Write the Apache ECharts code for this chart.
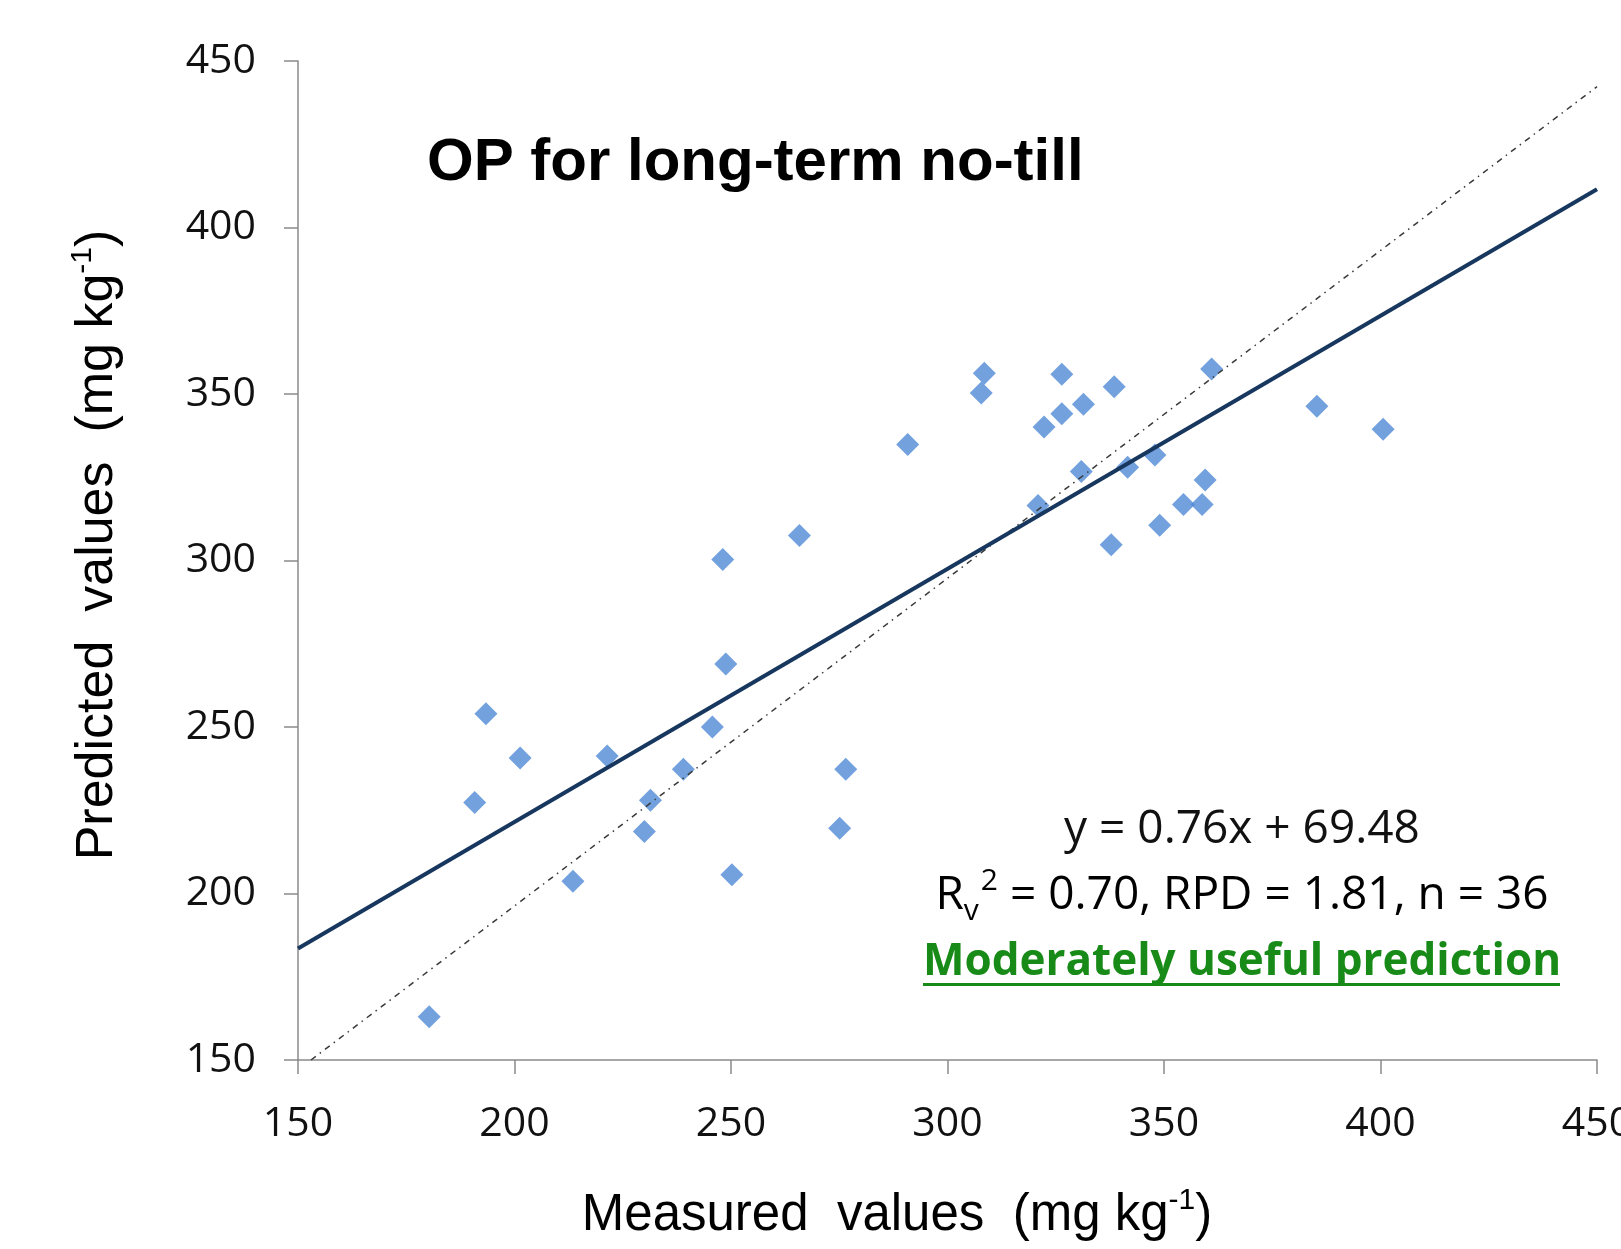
<!DOCTYPE html>
<html>
<head>
<meta charset="utf-8">
<script src="https://cdn.jsdelivr.net/npm/echarts@6/dist/echarts.min.js"></script>
<style>
html,body{margin:0;padding:0;background:#fff;overflow:hidden;}
#chart{width:1621px;height:1249px;}
</style>
</head>
<body>
<div id="chart"></div>
<script>
// ---- data ----
const measured = [180.3, 190.8, 193.4, 201.3, 213.5, 221.4, 230.0, 231.4, 239.0, 245.7,
  248.1, 248.8, 250.2, 265.8, 275.1, 276.5, 290.8, 307.8, 308.5, 320.9,
  322.3, 326.4, 326.4, 330.9, 331.4, 337.8, 338.5, 341.6, 347.9, 349.0,
  354.5, 358.8, 359.5, 361.0, 385.3, 400.6];
const predicted = [163.0, 227.3, 254.0, 240.7, 203.7, 241.3, 218.6, 228.0, 237.3, 250.0,
  300.3, 268.9, 205.6, 307.5, 219.6, 237.3, 334.8, 350.3, 356.2, 316.5,
  340.1, 344.1, 355.9, 326.7, 346.9, 304.7, 352.2, 328.0, 331.7, 310.6,
  316.8, 316.8, 324.2, 357.5, 346.3, 339.4];
const trendLine = [[150, 183.5], [450, 411.5]];      // y = 0.76x + 69.48
const referenceLine = [[153, 150], [450, 442.3]];    // dash-dot guide line
const axisTicks = [150, 200, 250, 300, 350, 400, 450];

const titleText = 'OP for long-term no-till';
const equationText = 'y = 0.76x + 69.48';
const statsText = ['R', 'v', '2', ' = 0.70, RPD = 1.81, n = 36'];
const verdictText = 'Moderately useful prediction';

const points = measured.map((x, i) => [x, predicted[i]]);

const axisColor = '#8a8a8a';
const chart = echarts.init(document.getElementById('chart'), null, {renderer: 'canvas', width: 1621, height: 1249});

const axisCommon = {
  type: 'value',
  min: axisTicks[0],
  max: axisTicks[axisTicks.length - 1],
  interval: axisTicks[1] - axisTicks[0],
  axisLine: {show: true, lineStyle: {color: axisColor, width: 1.5}},
  axisTick: {show: true, inside: false, length: 14, lineStyle: {color: axisColor, width: 1.5}},
  splitLine: {show: false},
  axisLabel: {color: '#111', fontFamily: 'Open Sans', fontSize: 41, hideOverlap: false}
};

chart.setOption({
  animation: false,
  backgroundColor: '#ffffff',
  grid: {left: 298, right: 24, top: 61, bottom: 189, containLabel: false, outerBoundsMode: 'none'},
  xAxis: Object.assign({}, axisCommon, {axisLabel: Object.assign({}, axisCommon.axisLabel, {margin: 44})}),
  yAxis: Object.assign({}, axisCommon, {axisLabel: Object.assign({}, axisCommon.axisLabel, {margin: 42})}),
  series: [
    {
      type: 'scatter',
      data: points,
      symbol: 'diamond',
      symbolSize: 23,
      itemStyle: {color: '#4F89D6'},
      z: 2
    },
    {
      type: 'line',
      data: referenceLine,
      showSymbol: false,
      symbol: 'none',
      lineStyle: {color: '#3a3a3a', width: 1.5, type: [6, 5, 1.5, 5]},
      z: 3
    },
    {
      type: 'line',
      data: trendLine,
      showSymbol: false,
      symbol: 'none',
      lineStyle: {color: '#17375E', width: 4},
      z: 4
    }
  ],
  graphic: [
    {
      type: 'text', left: 427, top: 133, z: 10,
      style: {text: titleText, fill: '#000', font: 'bold 60px "Liberation Sans", Arial, sans-serif'}
    },
    {
      type: 'text', x: 1242, y: 830, z: 10,
      style: {text: equationText, fill: '#111', font: '46px "Open Sans", sans-serif',
        align: 'center', verticalAlign: 'middle'}
    },
    {
      type: 'text', x: 1242, y: 896, z: 10,
      style: {
        text: '{m|' + statsText[0] + '}{sub|' + statsText[1] + '}{sup|' + statsText[2] + '}{m|' + statsText[3] + '}',
        align: 'center', verticalAlign: 'middle',
        rich: {
          m: {fontFamily: 'Open Sans', fontSize: 46, lineHeight: 60, color: '#111'},
          sub: {fontFamily: 'Open Sans', fontSize: 30, lineHeight: 30, verticalAlign: 'bottom', color: '#111'},
          sup: {fontFamily: 'Open Sans', fontSize: 30, lineHeight: 48, verticalAlign: 'top', color: '#111', padding: [0, 0, 0, 2]}
        }
      }
    },
    {
      type: 'text', x: 1242, y: 962, z: 10,
      style: {text: verdictText, fill: '#178a17', font: 'bold 44px "Open Sans", sans-serif',
        align: 'center', verticalAlign: 'middle'}
    },
    {
      type: 'rect', z: 10,
      shape: {x: 923, y: 983, width: 637, height: 3},
      style: {fill: '#178a17'}
    },
    {
      type: 'text', x: 897, y: 1216, z: 10,
      style: {
        text: '{m|Measured  values  (mg kg}{s|-1}{m|)}',
        align: 'center', verticalAlign: 'middle',
        rich: {
          m: {fontFamily: 'Liberation Sans', fontSize: 51, lineHeight: 60, color: '#000'},
          s: {fontFamily: 'Liberation Sans', fontSize: 30, lineHeight: 44, verticalAlign: 'top', color: '#000'}
        }
      }
    },
    {
      type: 'text', x: 98, y: 545, rotation: Math.PI / 2, z: 10,
      style: {
        text: '{m|Predicted  values  (mg kg}{s|-1}{m|)}',
        align: 'center', verticalAlign: 'middle',
        rich: {
          m: {fontFamily: 'Liberation Sans', fontSize: 52, lineHeight: 60, color: '#000'},
          s: {fontFamily: 'Liberation Sans', fontSize: 30, lineHeight: 44, verticalAlign: 'top', color: '#000'}
        }
      }
    }
  ]
});
</script>
</body>
</html>
